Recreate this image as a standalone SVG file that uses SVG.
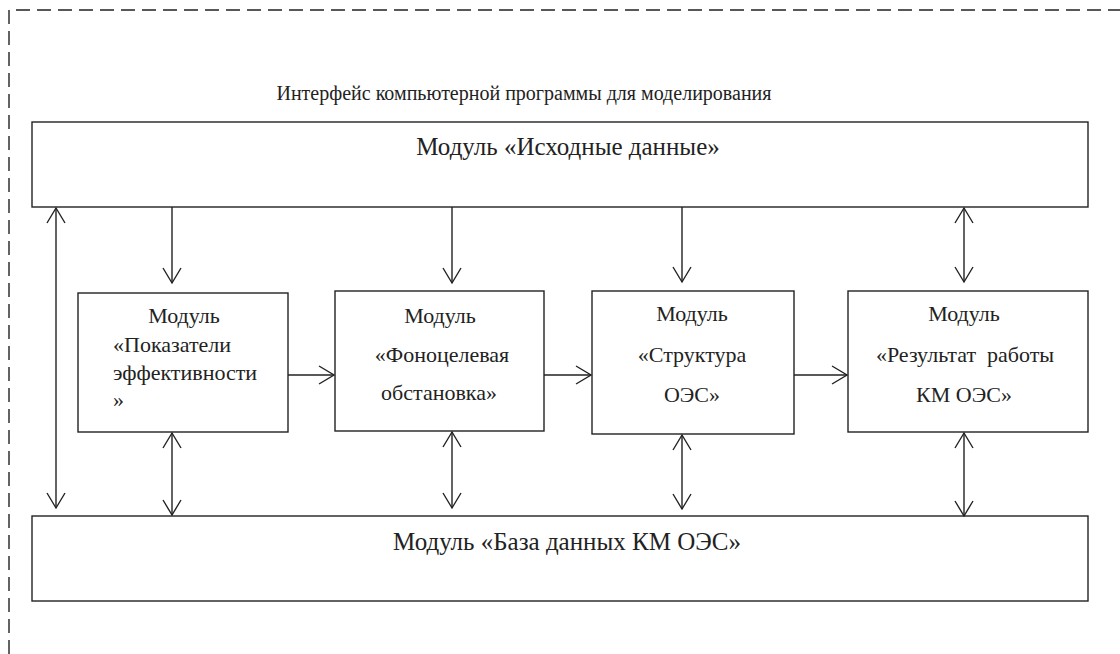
<svg xmlns="http://www.w3.org/2000/svg" width="1120" height="654" viewBox="0 0 1120 654">
<style>
.box{fill:#fff;stroke:#222;stroke-width:1.4}
.t{font-family:"Liberation Serif","Times New Roman",serif;font-size:22px;fill:#222}
.b{font-family:"Liberation Serif","Times New Roman",serif;font-size:25px;fill:#222}
.h{font-family:"Liberation Serif","Times New Roman",serif;font-size:20px;fill:#222}
.c{text-anchor:middle}
.ln{stroke:#222;stroke-width:1.4;fill:none}
</style>
<defs>
<marker id="ah" viewBox="-16 -10 18 20" refX="0" refY="0" markerWidth="18" markerHeight="20" markerUnits="userSpaceOnUse" orient="auto-start-reverse" overflow="visible">
<path d="M-15,-9 L0,0 L-15,9" fill="none" stroke="#222" stroke-width="1.4"/>
</marker>
</defs>
<rect width="1120" height="654" fill="#fff"/>
<g id="frame">
<path d="M9,654 V10 H1120" fill="none" stroke="#222" stroke-width="1.4" stroke-dasharray="14 7"/>
<text class="h c" x="524" y="100">Интерфейс компьютерной программы для моделирования</text>
</g>
<g id="top">
<rect class="box" x="32" y="122" width="1056" height="85"/>
<text class="b c" x="568" y="155">Модуль «Исходные данные»</text>
</g>
<g id="bottom">
<rect class="box" x="32" y="516" width="1056" height="85"/>
<text class="b c" x="567" y="550">Модуль «База данных КМ ОЭС»</text>
</g>
<g id="m1">
<rect class="box" x="78" y="293" width="210" height="139"/>
<text class="t c" x="184" y="323">Модуль</text>
<text class="t" x="113" y="352">«Показатели</text>
<text class="t" x="113" y="380">эффективности</text>
<text class="t" x="113" y="407">»</text>
</g>
<g id="m2">
<rect class="box" x="335" y="291" width="209" height="140"/>
<text class="t c" x="440" y="323">Модуль</text>
<text class="t c" x="442" y="362">«Фоноцелевая</text>
<text class="t c" x="439" y="400">обстановка»</text>
</g>
<g id="m3">
<rect class="box" x="592" y="291" width="202" height="143"/>
<text class="t c" x="692" y="321">Модуль</text>
<text class="t c" x="692" y="362">«Структура</text>
<text class="t c" x="692" y="402">ОЭС»</text>
</g>
<g id="m4">
<rect class="box" x="848" y="291" width="240" height="141"/>
<text class="t c" x="964" y="321">Модуль</text>
<text class="t c" x="965" y="362" xml:space="preserve">«Результат  работы</text>
<text class="t c" x="964" y="402">КМ ОЭС»</text>
</g>
<g id="connectors">
<line class="ln" x1="172" y1="207" x2="172" y2="283" marker-end="url(#ah)"/>
<line class="ln" x1="452" y1="207" x2="452" y2="283" marker-end="url(#ah)"/>
<line class="ln" x1="682" y1="207" x2="682" y2="282" marker-end="url(#ah)"/>
<line class="ln" x1="964" y1="208" x2="964" y2="282" marker-start="url(#ah)" marker-end="url(#ah)"/>
<line class="ln" x1="56" y1="208" x2="56" y2="508" marker-start="url(#ah)" marker-end="url(#ah)"/>
<line class="ln" x1="172" y1="433" x2="172" y2="515" marker-start="url(#ah)" marker-end="url(#ah)"/>
<line class="ln" x1="452" y1="432" x2="452" y2="508" marker-start="url(#ah)" marker-end="url(#ah)"/>
<line class="ln" x1="682" y1="435" x2="682" y2="509" marker-start="url(#ah)" marker-end="url(#ah)"/>
<line class="ln" x1="964" y1="433" x2="964" y2="516" marker-start="url(#ah)" marker-end="url(#ah)"/>
<line class="ln" x1="288" y1="375" x2="334" y2="375" marker-end="url(#ah)"/>
<line class="ln" x1="544" y1="375" x2="591" y2="375" marker-end="url(#ah)"/>
<line class="ln" x1="794" y1="375" x2="847" y2="375" marker-end="url(#ah)"/>
</g>
</svg>
